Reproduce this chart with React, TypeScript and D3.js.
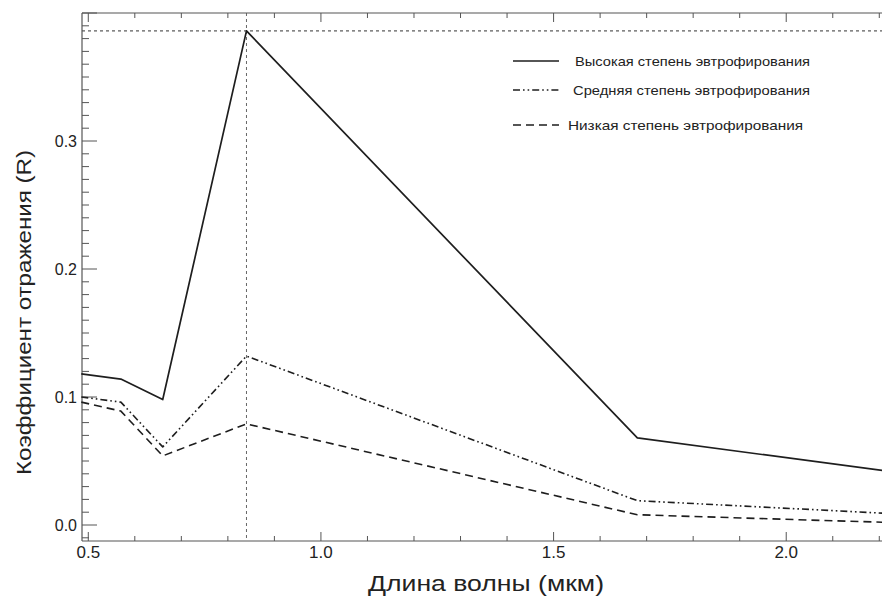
import React from "react";
import * as d3 from "d3";

// Wavelengths of the spectral bands (µm)
const wavelengths = [0.485, 0.57, 0.66, 0.84, 1.68, 2.22];

// Reflectance per eutrophication level
const highLevel = [0.118, 0.114, 0.098, 0.386, 0.068, 0.042];
const mediumLevel = [0.1, 0.096, 0.061, 0.132, 0.019, 0.009];
const lowLevel = [0.096, 0.089, 0.054, 0.079, 0.008, 0.002];

const seriesNames = [
  "Высокая степень эвтрофирования",
  "Средняя степень эвтрофирования",
  "Низкая степень эвтрофирования",
];

const xTickLabels = [0.5, 1.0, 1.5, 2.0];
const yTickLabels = [0.0, 0.1, 0.2, 0.3];

// Reference marks at the peak
const peakWavelength = 0.84;
const peakReflectance = 0.386;

const W = 882;
const H = 596;
const left = 82;
const right = 890;
const top = 13;
const bottom = 541;

const axisColor = "#555";
const lineColor = "#1e1e1e";

export default function App() {
  const x = d3.scaleLinear().domain([0.4865, 0.4865 + (right - left) / 465.3]).range([left, right]);
  const y = d3.scaleLinear().domain([-0.0125, 0.4]).range([bottom, top]);

  const lineGen = d3
    .line<number>()
    .x((_, i) => x(wavelengths[i]))
    .y((d) => y(d));

  const styles = [
    { data: highLevel, dash: undefined as string | undefined, width: 1.7 },
    { data: mediumLevel, dash: "7,3,1.6,3,1.6,3", width: 1.6 },
    { data: lowLevel, dash: "8,5", width: 1.6 },
  ];

  const xMajor = d3.range(0.5, 2.21, 0.5);
  const xMinor = d3.range(5, 23).map((v) => v / 10).filter((v) => Math.abs(v * 2 - Math.round(v * 2)) > 1e-6);
  const yMajor = d3.range(0, 5).map((v) => v / 10);
  const yMinor = d3.range(-1, 41).map((v) => v / 100).filter((v) => Math.abs(v * 10 - Math.round(v * 10)) > 1e-6);

  const legendRows = [61, 90, 125];
  const legendTextX = [575, 573, 568];
  const legendTextLen = [235, 237, 235];
  const sansFont = "'Liberation Sans', Arial, sans-serif";

  return (
    <div style={{ position: "absolute", left: 0, top: 0 }}>
      <svg width={W} height={H} style={{ display: "block", background: "#fff" }}>
        <rect x={0} y={0} width={W} height={H} fill="#fff" />

        {/* reference lines through the peak */}
        <line
          x1={left}
          x2={right}
          y1={y(peakReflectance)}
          y2={y(peakReflectance)}
          stroke="#333"
          strokeWidth={1}
          strokeDasharray="3,3"
        />
        <line
          x1={x(peakWavelength)}
          x2={x(peakWavelength)}
          y1={top}
          y2={bottom}
          stroke="#666"
          strokeWidth={1}
          strokeDasharray="3,3"
        />

        {/* frame */}
        <line x1={left} x2={right} y1={bottom} y2={bottom} stroke={axisColor} strokeWidth={1.2} />
        <line x1={left} x2={right} y1={top} y2={top} stroke={axisColor} strokeWidth={1.2} />
        <line x1={left} x2={left} y1={top} y2={bottom} stroke={axisColor} strokeWidth={1.2} />

        {/* x ticks, bottom and top */}
        {xMajor.map((v) => (
          <g key={"xM" + v}>
            <line x1={x(v)} x2={x(v)} y1={bottom} y2={bottom - 9} stroke={axisColor} />
            <line x1={x(v)} x2={x(v)} y1={top} y2={top + 9} stroke={axisColor} />
          </g>
        ))}
        {xMinor.map((v) => (
          <g key={"xm" + v}>
            <line x1={x(v)} x2={x(v)} y1={bottom} y2={bottom - 5} stroke={axisColor} />
            <line x1={x(v)} x2={x(v)} y1={top} y2={top + 5} stroke={axisColor} />
          </g>
        ))}
        {xTickLabels.map((v) => (
          <text
            key={"xl" + v}
            x={x(v)}
            y={558}
            textAnchor="middle"
            fontFamily={sansFont}
            fontSize={17}
            fill="#222"
          >
            {v.toFixed(1)}
          </text>
        ))}

        {/* y ticks */}
        {yMajor.map((v) => (
          <line key={"yM" + v} x1={left} x2={left + 15} y1={y(v)} y2={y(v)} stroke={axisColor} />
        ))}
        {yMinor.map((v) => (
          <line key={"ym" + v} x1={left} x2={left + 7} y1={y(v)} y2={y(v)} stroke={axisColor} />
        ))}
        {yTickLabels.map((v) => (
          <text
            key={"yl" + v}
            x={77}
            y={y(v) + 6}
            textAnchor="end"
            fontFamily={sansFont}
            fontSize={16}
            fill="#222"
          >
            {v.toFixed(1)}
          </text>
        ))}

        {/* series */}
        {styles.map((s, i) => (
          <path
            key={"s" + i}
            d={lineGen(s.data) || ""}
            fill="none"
            stroke={lineColor}
            strokeWidth={s.width}
            strokeDasharray={s.dash}
            strokeLinejoin="round"
          />
        ))}

        {/* legend */}
        {styles.map((s, i) => (
          <g key={"lg" + i}>
            <line
              x1={513}
              x2={559}
              y1={legendRows[i]}
              y2={legendRows[i]}
              stroke={lineColor}
              strokeWidth={s.width}
              strokeDasharray={s.dash}
            />
            <text
              x={legendTextX[i]}
              y={legendRows[i] + 5}
              fontFamily={sansFont}
              fontSize={13.5}
              textLength={legendTextLen[i]}
              lengthAdjust="spacingAndGlyphs"
              fill="#222"
            >
              {seriesNames[i]}
            </text>
          </g>
        ))}

        {/* axis titles */}
        <text
          x={368}
          y={591}
          fontFamily={sansFont}
          fontSize={22}
          textLength={236}
          lengthAdjust="spacingAndGlyphs"
          fill="#222"
        >
          Длина волны (мкм)
        </text>
        <text
          transform="translate(31, 475) rotate(-90)"
          fontFamily={sansFont}
          fontSize={20.5}
          textLength={325}
          lengthAdjust="spacingAndGlyphs"
          fill="#222"
        >
          Коэффициент отражения (R)
        </text>
      </svg>
    </div>
  );
}
